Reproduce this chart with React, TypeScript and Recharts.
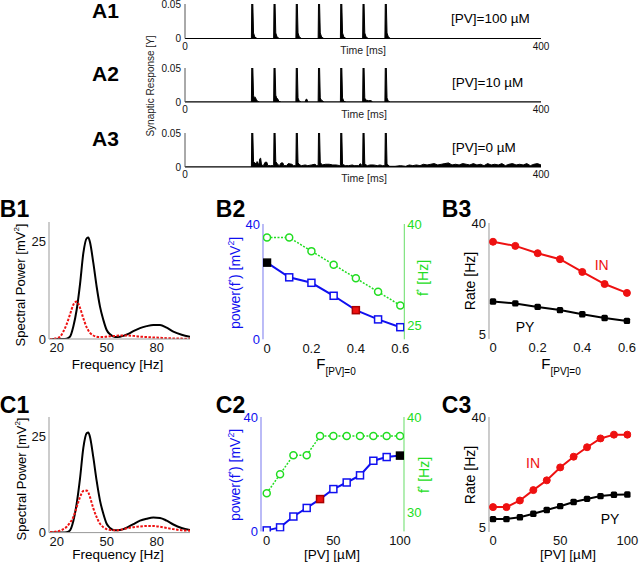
import React from 'react';
import { ComposedChart, Area, Line, XAxis, YAxis } from 'recharts';

const FONT = '"Liberation Sans", Arial, Helvetica, sans-serif';

// A1-A3: synaptic response traces as [time ms, response]
const tracePV100: [number, number][] = [
  [0, 0], [74.6, 0], [75, 0.05], [76.2, 0.05], [77, 0.008], [78.5, 0.002], [81, 0],
  [99.6, 0], [100, 0.05], [101.2, 0.05], [102, 0.008], [103.5, 0.002], [106, 0],
  [124.6, 0], [125, 0.05], [126.2, 0.05], [127, 0.008], [128.5, 0.002], [131, 0],
  [149.6, 0], [150, 0.05], [151.2, 0.05], [152, 0.008], [153.5, 0.002], [156, 0],
  [174.6, 0], [175, 0.05], [176.2, 0.05], [177, 0.008], [178.5, 0.002], [181, 0],
  [199.6, 0], [200, 0.05], [201.2, 0.05], [202, 0.008], [203.5, 0.002], [206, 0],
  [224.6, 0], [225, 0.05], [226.2, 0.05], [227, 0.008], [228.5, 0.002], [231, 0],
  [400, 0],
];

const tracePV10: [number, number][] = [
  [0, 0], [74.6, 0], [75, 0.05], [76.2, 0.05], [77, 0.01], [78, 0.006], [79, 0.007], [80, 0.004], [81.5, 0.001], [84, 0],
  [99.6, 0], [100, 0.05], [101.2, 0.05], [102, 0.01], [103, 0.006], [104, 0.005], [105.5, 0.001], [108, 0],
  [124.6, 0], [125, 0.05], [126.2, 0.05], [127, 0.006], [128.5, 0.001], [131, 0],
  [135, 0], [136, 0.004], [137, 0.004], [138, 0],
  [149.6, 0], [150, 0.05], [151.2, 0.05], [152, 0.006], [153, 0.003], [154.5, 0.002], [156, 0],
  [174.6, 0], [175, 0.05], [176.2, 0.05], [177, 0.006], [178.5, 0.001], [181, 0],
  [199.6, 0], [200, 0.05], [201.2, 0.05], [202, 0.006], [203, 0.003], [206, 0.002], [209, 0.002], [211, 0],
  [224.6, 0], [225, 0.05], [226.2, 0.05], [227, 0.006], [228.5, 0.001], [231, 0],
  [400, 0],
];

const tracePV0: [number, number][] = [
  [0, 0], [74.6, 0], [75, 0.05], [76.2, 0.05], [77, 0.008], [78, 0.007], [80, 0.004], [81, 0.008], [83, 0.003],
  [84, 0.012], [85, 0.013], [86, 0.003], [88, 0.002], [90, 0.007], [92, 0.007], [93, 0.002], [96, 0.002],
  [99.6, 0.002], [100, 0.05], [101.2, 0.05], [102, 0.008], [104, 0.004], [106, 0.002], [108, 0.006], [110, 0.006],
  [111, 0.002], [114, 0.002], [116, 0.005], [120, 0.004], [122, 0.002],
  [124.6, 0.002], [125, 0.05], [126.2, 0.05], [127, 0.006], [129, 0.003], [131, 0.002], [135, 0.003], [138, 0.002],
  [142, 0.003], [146, 0.004], [148, 0.002],
  [149.6, 0.002], [150, 0.05], [151.2, 0.05], [152, 0.007], [154, 0.003], [158, 0.004], [162, 0.004], [166, 0.003],
  [170, 0.003], [174, 0.002],
  [174.6, 0.002], [175, 0.05], [176.2, 0.05], [177, 0.004], [180, 0.002], [184, 0.002], [188, 0.003], [190, 0.002],
  [195, 0.002], [197, 0.005], [199, 0.002],
  [199.6, 0.002], [200, 0.05], [201.2, 0.05], [202, 0.004], [205, 0.002], [208, 0.003], [212, 0.003], [216, 0.002],
  [219, 0.003], [222, 0.002],
  [224.6, 0.002], [225, 0.05], [226.2, 0.05], [227, 0.004], [230, 0.001], [236, 0.001], [242, 0.002], [248, 0.001],
  [252, 0.003], [256, 0.002], [260, 0.003], [264, 0.002], [268, 0.004], [272, 0.003], [276, 0.004], [280, 0.005],
  [284, 0.003], [288, 0.004], [292, 0.005], [296, 0.006], [300, 0.003], [304, 0.004], [308, 0.003], [312, 0.005],
  [316, 0.004], [320, 0.003], [324, 0.005], [328, 0.003], [332, 0.004], [336, 0.002], [340, 0.005], [344, 0.003],
  [348, 0.004], [352, 0.003], [356, 0.005], [360, 0.002], [364, 0.004], [368, 0.005], [372, 0.003], [376, 0.004],
  [380, 0.003], [384, 0.005], [388, 0.002], [392, 0.004], [396, 0.005], [400, 0.003],
];

// B1/C1: spectral power [mV^2] vs frequency [Hz]
const freqHz = [16, 18, 20, 22, 24, 26, 28, 30, 32, 34, 36, 38, 39, 40, 42, 44, 46, 48, 50, 52, 55, 58, 60, 63, 66, 70, 74, 78, 82, 86, 90, 95, 100];
const b1Control = [0, 0, 0, 0, 0, 0.1, 0.6, 3.2, 7.5, 14, 22, 25.8, 26, 24.8, 19.5, 13.4, 8.3, 4.9, 2.3, 1.2, 0.5, 0.6, 0.8, 1.3, 2.0, 2.8, 3.3, 3.6, 3.6, 2.9, 1.9, 1.1, 0.6];
const b1NoPV = [0, 0.05, 0.2, 0.6, 1.9, 3.8, 6.3, 8.8, 9.6, 8.0, 5.3, 3.0, 2.2, 1.6, 0.9, 0.6, 0.5, 0.5, 0.6, 0.7, 0.8, 0.9, 0.9, 0.9, 0.8, 0.6, 0.5, 0.4, 0.3, 0.2, 0.15, 0.1, 0.05];
const c1Control = [0, 0, 0, 0, 0, 0.1, 0.6, 3.0, 7.5, 14, 22, 25.8, 26, 24.8, 19.5, 13.4, 8.3, 4.9, 2.3, 1.2, 0.6, 0.7, 0.9, 1.5, 2.2, 3.1, 3.6, 3.9, 3.8, 3.1, 2.1, 1.2, 0.7];
const c1NoPV = [0.1, 0.15, 0.3, 0.5, 0.9, 1.5, 2.6, 4.0, 6.6, 9.2, 10.8, 10.9, 10.4, 9.2, 6.3, 4.0, 2.3, 1.4, 0.9, 0.7, 0.6, 0.7, 0.9, 1.2, 1.4, 1.6, 1.7, 1.7, 1.5, 1.2, 0.9, 0.6, 0.5];

// B2/B3: versus fraction of cells with [PV]=0
const fractionPV0 = [0, 0.1, 0.2, 0.3, 0.4, 0.5, 0.6];
const b2Power = [26.6, 21.5, 19.6, 15.1, 10.1, 6.9, 4.2];
const b2PeakFreq = [38, 38, 36, 34, 32, 30, 28];
const b3RateIN = [34.1, 32.8, 30.5, 28.6, 24.6, 20.8, 18.0];
const b3RatePY = [15.3, 14.7, 13.6, 12.6, 11.3, 10.1, 9.2];

// C2/C3: versus [PV] in uM
const pvConc = [0, 10, 20, 30, 40, 50, 60, 70, 80, 90, 100];
const c2Power = [0.35, 1.4, 5.2, 8.2, 11.3, 14.8, 17.1, 19.6, 24.7, 26.0, 26.5];
const c2PeakFreq = [32, 34, 36, 36, 38, 38, 38, 38, 38, 38, 38];
const c3RateIN = [11.4, 11.4, 13.5, 16.8, 19.9, 24.0, 27.4, 30.4, 33.2, 34.4, 34.4];
const c3RatePY = [7.6, 7.6, 8.2, 9.3, 10.5, 11.7, 13.0, 14.0, 14.9, 15.3, 15.4];

const BLUE = '#1010f0';
const GREEN = '#22dd22';
const RED = '#ee1111';

type Rect = { x: number; y: number; w: number; h: number };
const PL = 50, PR = 50, PT = 10, PB = 30;

function Frame({ r, data, right = false, children }: { r: Rect; data: any[]; right?: boolean; children: React.ReactNode }) {
  return (
    <div style={{ position: 'absolute', left: r.x - PL, top: r.y - PT }}>
      <ComposedChart
        width={r.w + PL + PR}
        height={r.h + PT + PB}
        data={data}
        margin={{ top: PT, right: right ? 0 : PR, bottom: 0, left: 0 }}
      >
        {children}
      </ComposedChart>
    </div>
  );
}

const tickStyle = (size: number, fill = '#111') => ({ fontSize: size, fill, fontFamily: FONT });

function TracePanel({ r, trace }: { r: Rect; trace: [number, number][] }) {
  const data = trace.map(([t, v]) => ({ t, v }));
  return (
    <Frame r={r} data={data}>
      <XAxis dataKey="t" type="number" domain={[0, 400]} ticks={[0, 400]} height={PB}
        tickLine={false} tickSize={3} tickMargin={1} axisLine={{ stroke: '#000' }} tick={tickStyle(10)} />
      <YAxis type="number" domain={[0, 0.05]} ticks={[0, 0.05]} width={PL} allowDataOverflow
        tickLine={false} tickSize={2} tickMargin={2} axisLine={{ stroke: '#555' }} tick={tickStyle(10)}
        tickFormatter={(v: number) => (v === 0 ? '0' : '0.05')} />
      <Area dataKey="v" type="linear" stroke="#000" strokeWidth={1} fill="#000" fillOpacity={1}
        dot={false} activeDot={false} isAnimationActive={false} />
    </Frame>
  );
}

function SpectrumPanel({ r, control, noPV }: { r: Rect; control: number[]; noPV: number[] }) {
  const data = freqHz.map((f, i) => ({ f, control: control[i], noPV: noPV[i] }));
  return (
    <Frame r={r} data={data}>
      <XAxis dataKey="f" type="number" domain={[15.4, 100]} ticks={[20, 50, 80]} height={PB} allowDataOverflow
        tickLine={false} tickSize={3} tickMargin={1} axisLine={{ stroke: '#999' }} tick={tickStyle(13)} />
      <YAxis type="number" domain={[0, 30]} ticks={[0, 25]} width={PL} allowDataOverflow
        tickLine={false} tickSize={1} tickMargin={2} axisLine={{ stroke: '#999' }} tick={tickStyle(13)} />
      <Line dataKey="control" type="monotone" stroke="#000" strokeWidth={2} dot={false} isAnimationActive={false} />
      <Line dataKey="noPV" type="monotone" stroke={RED} strokeWidth={2} strokeDasharray="2.5 1.5" dot={false} isAnimationActive={false} />
    </Frame>
  );
}

function PeakPanel({ r, xs, power, freq, xDomain, xTicks, fDomain, fTicks, redAt, blackAt }: {
  r: Rect; xs: number[]; power: number[]; freq: number[]; xDomain: [number, number]; xTicks: number[];
  fDomain: [number, number]; fTicks: number[]; redAt: number; blackAt: number;
}) {
  const data = xs.map((x, i) => ({ x, power: power[i], freq: freq[i] }));
  const square = (p: any) => {
    const x = p.payload?.x;
    const fill = x === redAt ? RED : x === blackAt ? '#000' : '#fff';
    const stroke = x === redAt ? '#a00' : x === blackAt ? '#000' : BLUE;
    return <rect key={`sq-${p.index}`} x={p.cx - 3.5} y={p.cy - 3.5} width={7} height={7} fill={fill} stroke={stroke} strokeWidth={1.5} />;
  };
  return (
    <Frame r={r} data={data} right>
      <XAxis dataKey="x" type="number" domain={xDomain} ticks={xTicks} height={PB} allowDataOverflow
        tickLine={false} tickSize={3} tickMargin={1} axisLine={false} tick={tickStyle(13)} />
      <YAxis yAxisId="l" type="number" domain={[0, 40]} ticks={[0, 40]} width={PL} allowDataOverflow
        tickLine={false} tickSize={1} tickMargin={2} axisLine={{ stroke: '#7777ee' }} tick={tickStyle(13, BLUE)} />
      <YAxis yAxisId="r" orientation="right" type="number" domain={fDomain} ticks={fTicks} width={PR} allowDataOverflow
        tickLine={false} tickSize={1} tickMargin={2} axisLine={{ stroke: '#66dd66' }} tick={tickStyle(13, GREEN)} />
      <Line yAxisId="r" dataKey="freq" type="linear" stroke={GREEN} strokeWidth={1.5} strokeDasharray="2 1.5"
        dot={{ r: 3.5, fill: '#fff', stroke: GREEN, strokeWidth: 1.5, strokeDasharray: '' }} isAnimationActive={false} />
      <Line yAxisId="l" dataKey="power" type="linear" stroke={BLUE} strokeWidth={2} dot={square} isAnimationActive={false} />
    </Frame>
  );
}

function RatePanel({ r, xs, rateIN, ratePY, xDomain, xTicks }: {
  r: Rect; xs: number[]; rateIN: number[]; ratePY: number[]; xDomain: [number, number]; xTicks: number[];
}) {
  const data = xs.map((x, i) => ({ x, rin: rateIN[i], rpy: ratePY[i] }));
  const blackSquare = (p: any) => (
    <rect key={`b-${p.index}`} x={p.cx - 3.2} y={p.cy - 3.2} width={6.4} height={6.4} rx={1.5} fill="#000" />
  );
  return (
    <Frame r={r} data={data}>
      <XAxis dataKey="x" type="number" domain={xDomain} ticks={xTicks} height={PB} allowDataOverflow
        tickLine={false} tickSize={3} tickMargin={1} axisLine={false} tick={tickStyle(13)} />
      <YAxis type="number" domain={[3.5, 40]} ticks={[5, 40]} width={PL} allowDataOverflow
        tickLine={false} tickSize={1} tickMargin={2} axisLine={{ stroke: '#999' }} tick={tickStyle(13)} />
      <Line dataKey="rpy" type="linear" stroke="#000" strokeWidth={2} dot={blackSquare} isAnimationActive={false} />
      <Line dataKey="rin" type="linear" stroke={RED} strokeWidth={2} dot={{ r: 3.5, fill: RED, stroke: RED, strokeWidth: 1 }} isAnimationActive={false} />
    </Frame>
  );
}

function T({ x, y, size = 14, color = '#000', bold = false, rotate = 0, left = false, children }: {
  x: number; y: number; size?: number; color?: string; bold?: boolean; rotate?: number; left?: boolean; children: React.ReactNode;
}) {
  const tr = `${left ? 'translate(0,-50%)' : 'translate(-50%,-50%)'}${rotate ? ` rotate(${rotate}deg)` : ''}`;
  return (
    <div style={{
      position: 'absolute', left: x, top: y, transform: tr, fontFamily: FONT, fontSize: size, color,
      fontWeight: bold ? 700 : 400, whiteSpace: 'nowrap', lineHeight: 1,
    }}>{children}</div>
  );
}

const sup = { fontSize: '0.62em', verticalAlign: 'super', lineHeight: 0 } as const;
const Fsub = () => (
  <span>F<span style={{ fontSize: 10, verticalAlign: '-0.55em', lineHeight: 0 }}>[PV]=0</span></span>
);

export default function App() {
  return (
    <div style={{ position: 'absolute', left: 0, top: 0, width: 640, height: 565, background: '#fff', overflow: 'hidden' }}>
      <TracePanel r={{ x: 185, y: 4, w: 356, h: 34.5 }} trace={tracePV100} />
      <TracePanel r={{ x: 185, y: 68.3, w: 356, h: 34 }} trace={tracePV10} />
      <TracePanel r={{ x: 185, y: 132.7, w: 356, h: 34 }} trace={tracePV0} />

      <SpectrumPanel r={{ x: 49, y: 222, w: 141, h: 117 }} control={b1Control} noPV={b1NoPV} />
      <PeakPanel r={{ x: 262.7, y: 224, w: 141.3, h: 115.3 }} xs={fractionPV0} power={b2Power} freq={b2PeakFreq}
        xDomain={[-0.018, 0.618]} xTicks={[0, 0.2, 0.4, 0.6]} fDomain={[23, 40]} fTicks={[25, 40]} redAt={0.4} blackAt={0} />
      <RatePanel r={{ x: 489.3, y: 223.3, w: 142.4, h: 116 }} xs={fractionPV0} rateIN={b3RateIN} ratePY={b3RatePY}
        xDomain={[-0.018, 0.62]} xTicks={[0, 0.2, 0.4, 0.6]} />

      <SpectrumPanel r={{ x: 49, y: 416.7, w: 141, h: 115.6 }} control={c1Control} noPV={c1NoPV} />
      <PeakPanel r={{ x: 261, y: 417.3, w: 143, h: 114.4 }} xs={pvConc} power={c2Power} freq={c2PeakFreq}
        xDomain={[-4.3, 103]} xTicks={[0, 50, 100]} fDomain={[28, 40]} fTicks={[30, 40]} redAt={40} blackAt={100} />
      <RatePanel r={{ x: 489.3, y: 416.7, w: 142.4, h: 115 }} xs={pvConc} rateIN={c3RateIN} ratePY={c3RatePY}
        xDomain={[-3, 103]} xTicks={[0, 50, 100]} />

      {/* panel letters */}
      <T x={105.5} y={10} size={21} bold>A1</T>
      <T x={105.5} y={73} size={21} bold>A2</T>
      <T x={105.5} y={137.5} size={21} bold>A3</T>
      <T x={14.5} y={209} size={23} bold>B1</T>
      <T x={230.5} y={209} size={23} bold>B2</T>
      <T x={456.5} y={209} size={23} bold>B3</T>
      <T x={14.5} y={405} size={23} bold>C1</T>
      <T x={230.5} y={405} size={23} bold>C2</T>
      <T x={456.5} y={405} size={23} bold>C3</T>

      {/* A texts */}
      <T x={151} y={86} size={10} rotate={-90} color="#222">Synaptic Response [Y]</T>
      <T x={363} y={50} size={10.5} color="#222">Time [ms]</T>
      <T x={364} y={114.3} size={10.5} color="#222">Time [ms]</T>
      <T x={364} y={178.3} size={10.5} color="#222">Time [ms]</T>
      <T x={451} y={19} size={13.5} left>[PV]=100 µM</T>
      <T x={452} y={82.7} size={13.5} left>[PV]=10 µM</T>
      <T x={452} y={147.7} size={13.5} left>[PV]=0 µM</T>

      {/* B texts */}
      <T x={20} y={285} size={13} rotate={-90}>Spectral Power [mV<span style={sup}>2</span>]</T>
      <T x={117.5} y={365} size={13.5}>Frequency [Hz]</T>
      <T x={235} y={282.5} size={14} rotate={-90} color={BLUE}>power(f<span style={sup}>*</span>) [mV<span style={sup}>2</span>]</T>
      <T x={423} y={277.5} size={14} rotate={-90} color={GREEN}>f<span style={sup}>*</span> [Hz]</T>
      <T x={336} y={364} size={15}><Fsub /></T>
      <T x={470} y={281} size={14} rotate={-90}>Rate [Hz]</T>
      <T x={561} y={364} size={15}><Fsub /></T>
      <T x={601.7} y={265} size={14} color={RED}>IN</T>
      <T x={525} y={327} size={14}>PY</T>

      {/* C texts */}
      <T x={21} y={479} size={13} rotate={-90}>Spectral Power [mV<span style={sup}>2</span>]</T>
      <T x={118} y={555} size={13.5}>Frequency [Hz]</T>
      <T x={235} y={475} size={14} rotate={-90} color={BLUE}>power(f<span style={sup}>*</span>) [mV<span style={sup}>2</span>]</T>
      <T x={424} y={475} size={14} rotate={-90} color={GREEN}>f<span style={sup}>*</span> [Hz]</T>
      <T x={332} y={555} size={13.5}>[PV] [µM]</T>
      <T x={470} y={475} size={14} rotate={-90}>Rate [Hz]</T>
      <T x={568} y={555} size={13.5}>[PV] [µM]</T>
      <T x={533} y={463} size={14} color={RED}>IN</T>
      <T x={610} y={519} size={14}>PY</T>
    </div>
  );
}
